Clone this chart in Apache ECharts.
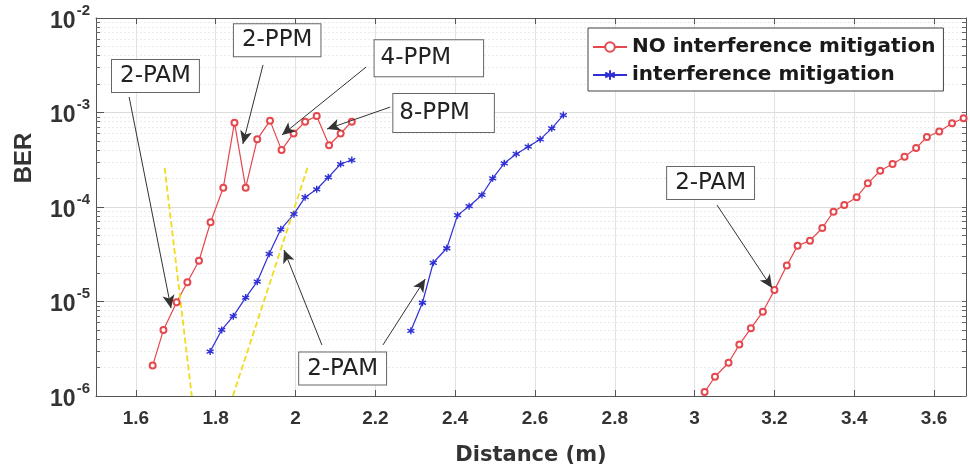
<!DOCTYPE html>
<html>
<head>
<meta charset="utf-8">
<script src="https://cdn.jsdelivr.net/npm/echarts@6/dist/echarts.min.js"></script>
<style>
html,body{margin:0;padding:0;background:#fff}
#chart{width:970px;height:473px}
</style>
</head>
<body>
<div id="chart"></div>
<script>
// NO interference mitigation, short range (2-PAM then 2/4/8-PPM region)
var noMitA_x = [1.642,1.669,1.702,1.729,1.758,1.787,1.819,1.847,1.875,1.904,1.936,1.965,1.995,2.024,2.053,2.084,2.113,2.141];
var noMitA_y = [2.1e-6,5.0e-6,9.8e-6,1.6e-5,2.7e-5,6.9e-5,1.6e-4,7.8e-4,1.6e-4,5.2e-4,8.2e-4,4.0e-4,6.0e-4,8.0e-4,9.2e-4,4.5e-4,6.0e-4,8.0e-4];
// NO interference mitigation, long range 2-PAM
var noMitB_x = [3.025,3.051,3.085,3.112,3.141,3.171,3.200,3.231,3.258,3.289,3.320,3.348,3.375,3.406,3.434,3.465,3.496,3.526,3.555,3.582,3.613,3.645,3.674];
var noMitB_y = [1.1e-6,1.6e-6,2.25e-6,3.5e-6,5.2e-6,7.8e-6,1.32e-5,2.4e-5,3.9e-5,4.4e-5,6.0e-5,8.9e-5,1.05e-4,1.27e-4,1.78e-4,2.42e-4,2.85e-4,3.4e-4,4.2e-4,5.5e-4,6.3e-4,7.7e-4,8.7e-4];
// interference mitigation
var mitA_x = [1.786,1.815,1.844,1.875,1.904,1.934,1.963,1.996,2.024,2.053,2.082,2.113,2.141];
var mitA_y = [2.95e-6,5.0e-6,7.0e-6,1.1e-5,1.62e-5,3.2e-5,5.8e-5,8.4e-5,1.27e-4,1.54e-4,2.06e-4,2.85e-4,3.14e-4];
var mitB_x = [2.289,2.318,2.345,2.379,2.406,2.435,2.467,2.494,2.523,2.553,2.583,2.613,2.642,2.671];
var mitB_y = [4.9e-6,9.7e-6,2.57e-5,3.66e-5,8.2e-5,1.02e-4,1.34e-4,2.01e-4,2.9e-4,3.64e-4,4.35e-4,5.2e-4,6.8e-4,9.4e-4];
// yellow reference lines
var refA_x = [1.672,1.740];
var refA_y = [2.6e-4,1e-6];
var refB_x = [2.030,1.843];
var refB_y = [2.6e-4,1e-6];

// text boxes and arrows (data coordinates)
var annText = ['2-PAM','2-PPM','4-PPM','8-PPM','2-PAM','2-PAM'];
var annX = [1.649,1.954,2.334,2.371,2.118,3.040];
var annY = [2.43e-3,5.81e-3,3.74e-3,9.9e-4,1.95e-6,1.79e-4];
var arrFromX = [1.583,1.9185,2.177,2.237,2.066,2.219,3.056];
var arrFromY = [1.46e-3,3.19e-3,3.03e-3,1.14e-3,3.47e-6,3.47e-6,1.05e-4];
var arrToX = [1.688,1.868,1.966,2.079,1.971,2.325,3.194];
var arrToY = [8.5e-6,4.65e-4,5.78e-4,6.68e-4,3.51e-5,1.73e-5,1.39e-5];

var xTicks = [1.6,1.8,2,2.2,2.4,2.6,2.8,3,3.2,3.4,3.6];
var yMajor = [1e-6,1e-5,1e-4,1e-3,1e-2];

var RED = '#e5484d', BLUE = '#2f2fd6', YEL = '#efdc1c';
var star = 'path://M0,-5L0,5M-4.3,-2.5L4.3,2.5M-4.3,2.5L4.3,-2.5';

function pairs(xs, ys) {
	var out = [];
	for (var i = 0; i < xs.length; i++) out.push([xs[i], ys[i]]);
	return out;
}

var yMinor = [];
for (var e = -6; e < -2; e++) {
	for (var k = 2; k <= 9; k++) yMinor.push(k * Math.pow(10, e));
}

var chart = echarts.init(document.getElementById('chart'));

// the PPM boxes are drawn wider on the right in the original
var widePad = { '4-PPM': [7, 32, 6, 6], '8-PPM': [8, 24, 7, 6] };
var annPoints = [];
for (var i = 0; i < annText.length; i++) {
	var pt = { name: annText[i], coord: [annX[i], annY[i]] };
	if (widePad[annText[i]]) pt.label = { padding: widePad[annText[i]] };
	annPoints.push(pt);
}
var annLines = [];
for (var j = 0; j < arrFromX.length; j++) {
	annLines.push([{ coord: [arrFromX[j], arrFromY[j]] }, { coord: [arrToX[j], arrToY[j]] }]);
}

var redStyle = {
	type: 'line', name: 'NO interference mitigation',
	symbol: 'emptyCircle', symbolSize: 6,
	lineStyle: { color: RED, width: 1.2 },
	itemStyle: { color: RED, borderColor: RED, borderWidth: 1 },
	animation: false
};
var blueStyle = {
	type: 'line', name: 'interference mitigation',
	symbol: star, symbolSize: 7,
	lineStyle: { color: BLUE, width: 1.2 },
	itemStyle: { color: BLUE, borderColor: BLUE, borderWidth: 1.4 },
	animation: false
};

chart.setOption({
	backgroundColor: '#fff',
	animation: false,
	grid: { left: 96, right: 4, top: 18, bottom: 77, show: false },
	legend: {
		orient: 'vertical', left: 588, top: 28,
		data: ['NO interference mitigation', 'interference mitigation'],
		itemWidth: 34, itemHeight: 12, itemGap: 8,
		padding: [9, 8, 6, 4],
		backgroundColor: '#fff', borderColor: '#444', borderWidth: 1, borderRadius: 0,
		textStyle: { fontFamily: 'DejaVu Sans', fontWeight: 'bold', fontSize: 20, color: '#1a1a1a' }
	},
	xAxis: [{
		type: 'value', min: 1.5, max: 3.68, position: 'bottom',
		axisLine: { show: true, onZero: false, lineStyle: { color: '#555' } },
		axisTick: { show: true, inside: true, length: 6, customValues: xTicks, lineStyle: { color: '#555' } },
		axisLabel: {
			customValues: xTicks, margin: 13,
			fontFamily: 'Liberation Sans', fontWeight: 'bold', fontSize: 19, color: '#333',
			formatter: function (v) { return String(+(+v).toFixed(1)); }
		},
		splitLine: { show: true, lineStyle: { color: '#e2e2e2', width: 1 } },
		name: 'Distance (m)', nameLocation: 'middle', nameGap: 49,
		nameTextStyle: { fontFamily: 'DejaVu Sans', fontWeight: 'bold', fontSize: 21, color: '#333' }
	}, {
		type: 'value', min: 1.5, max: 3.68, position: 'top',
		axisLine: { show: true, onZero: false, lineStyle: { color: '#555' } },
		axisTick: { show: true, inside: true, length: 6, customValues: xTicks, lineStyle: { color: '#555' } },
		axisLabel: { show: false },
		splitLine: { show: false }
	}],
	yAxis: [{
		type: 'log', logBase: 10, min: 1e-6, max: 1e-2, position: 'left',
		axisLine: { show: true, onZero: false, lineStyle: { color: '#555' } },
		axisTick: { show: true, inside: true, length: 8, customValues: yMajor, lineStyle: { color: '#555' } },
		axisLabel: {
			customValues: yMajor, margin: 6,
			formatter: function (v) {
				var p = Math.round(Math.log(v) / Math.LN10);
				return '{b|10}{s|' + p + '}';
			},
			rich: {
				b: { fontFamily: 'Liberation Sans', fontWeight: 'bold', fontSize: 23, color: '#333', lineHeight: 30, verticalAlign: 'bottom' },
				s: { fontFamily: 'Liberation Sans', fontWeight: 'bold', fontSize: 15, color: '#333', lineHeight: 30, verticalAlign: 'top', padding: [0, 0, 0, 1] }
			}
		},
		splitLine: { show: true, lineStyle: { color: '#dcdcdc', width: 1 } }
	}, {
		type: 'log', logBase: 10, min: 1e-6, max: 1e-2, position: 'left',
		axisLine: { show: false },
		axisTick: { show: true, inside: true, length: 4, customValues: yMinor, lineStyle: { color: '#666' } },
		axisLabel: { show: false },
		splitLine: { show: true, lineStyle: { color: '#ebebeb', width: 1, type: [2, 2] } }
	}, {
		type: 'log', logBase: 10, min: 1e-6, max: 1e-2, position: 'right',
		axisLine: { show: true, onZero: false, lineStyle: { color: '#555' } },
		axisTick: { show: true, inside: true, length: 4, customValues: yMajor.concat(yMinor), lineStyle: { color: '#666' } },
		axisLabel: { show: false },
		splitLine: { show: false }
	}],
	graphic: [{
		type: 'text', x: 24, y: 158, rotation: Math.PI / 2,
		style: { text: 'BER', align: 'center', verticalAlign: 'middle',
			font: 'bold 24px "Liberation Sans"', fill: '#333' }
	}],
	series: [
		echarts.util.merge({ data: pairs(noMitA_x, noMitA_y) }, redStyle),
		echarts.util.merge({ data: pairs(noMitB_x, noMitB_y) }, redStyle),
		echarts.util.merge({ data: pairs(mitA_x, mitA_y) }, blueStyle),
		echarts.util.merge({ data: pairs(mitB_x, mitB_y) }, blueStyle),
		{ type: 'line', name: 'refA', data: pairs(refA_x, refA_y), showSymbol: false,
		  lineStyle: { color: YEL, width: 1.8, type: [6, 3] } },
		{ type: 'line', name: 'refB', data: pairs(refB_x, refB_y), showSymbol: false,
		  lineStyle: { color: YEL, width: 1.8, type: [6, 3] } },
		{
			type: 'line', name: 'annot', data: [], silent: true, z: 5,
			markLine: {
				silent: true, animation: false,
				symbol: ['none', 'arrow'], symbolSize: [9, 13],
				label: { show: false },
				lineStyle: { color: '#333', width: 1, type: 'solid' },
				emphasis: { disabled: true },
				data: annLines
			},
			markPoint: {
				silent: true, animation: false,
				symbol: 'rect', symbolSize: 1,
				itemStyle: { color: 'rgba(0,0,0,0)' },
				label: {
					show: true, position: 'inside', formatter: '{b}',
					fontFamily: 'DejaVu Sans', fontSize: 23, color: '#222',
					backgroundColor: '#fff', borderColor: '#666', borderWidth: 1,
					padding: [5, 8, 4, 8]
				},
				data: annPoints
			}
		}
	]
});
</script>
</body>
</html>
